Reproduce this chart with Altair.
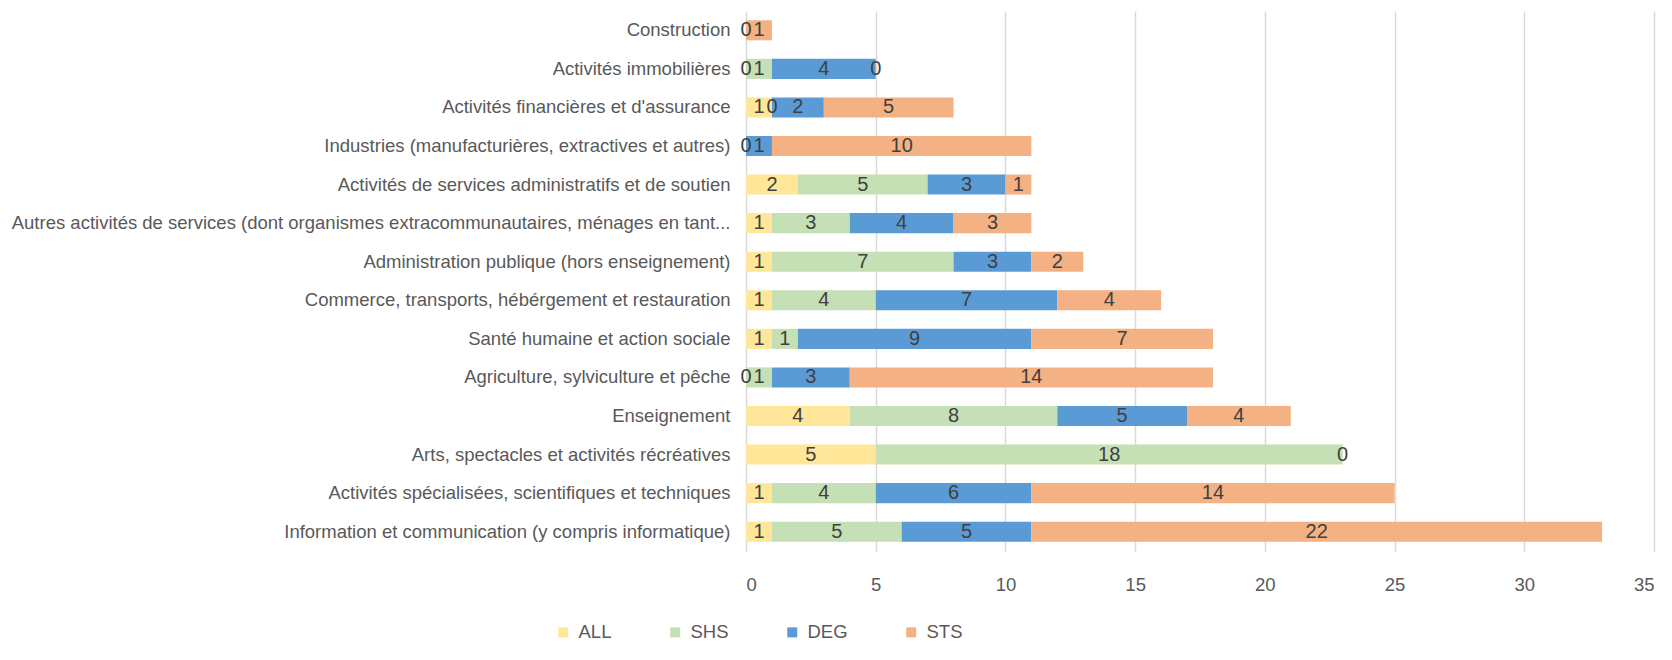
import altair as alt
import pandas as pd

categories = [
    "Construction",
    "Activités immobilières",
    "Activités financières et d'assurance",
    "Industries (manufacturières, extractives et autres)",
    "Activités de services administratifs et de soutien",
    "Autres activités de services (dont organismes extracommunautaires, ménages en tant...",
    "Administration publique (hors enseignement)",
    "Commerce, transports, hébérgement et restauration",
    "Santé humaine et action sociale",
    "Agriculture, sylviculture et pêche",
    "Enseignement",
    "Arts, spectacles et activités récréatives",
    "Activités spécialisées, scientifiques et techniques",
    "Information et communication (y compris informatique)",
]
series = ["ALL", "SHS", "DEG", "STS"]
ALL = [0, 0, 1, 0, 2, 1, 1, 1, 1, 0, 4, 5, 1, 1]
SHS = [None, 1, 0, None, 5, 3, 7, 4, 1, 1, 8, 18, 4, 5]
DEG = [None, 4, 2, 1, 3, 4, 3, 7, 9, 3, 5, None, 6, 5]
STS = [1, 0, 5, 10, 1, 3, 2, 4, 7, 14, 4, 0, 14, 22]
colors = ["#FFE699", "#C5E0B4", "#5B9BD5", "#F4B183"]

rows = []
for s_i, (s, vals) in enumerate(zip(series, [ALL, SHS, DEG, STS])):
    for c, v in zip(categories, vals):
        if v is not None:
            rows.append({"cat": c, "serie": s, "ord": s_i, "value": v})
df = pd.DataFrame(rows)

FONT = "Liberation Sans"

base = alt.Chart(df).transform_stack(
    stack="value", groupby=["cat"], as_=["x0", "x1"], sort=[alt.SortField("ord")]
).transform_calculate(mid="(datum.x0 + datum.x1) / 2")

y_enc = alt.Y(
    "cat:N",
    sort=categories,
    title=None,
    scale=alt.Scale(paddingInner=0.48, paddingOuter=0.24),
    axis=alt.Axis(
        labelFont=FONT, labelFontSize=18.5, labelColor="#595959",
        labelPadding=16, labelLimit=800, ticks=False, domain=False,
    ),
)

bars = base.mark_bar().encode(
    x=alt.X(
        "x0:Q",
        title=None,
        scale=alt.Scale(domain=[0, 35], nice=False),
        axis=alt.Axis(
            values=[0, 5, 10, 15, 20, 25, 30, 35], grid=True, gridColor="#D9D9D9",
            gridWidth=1.5, domain=False, ticks=False, labelFont=FONT,
            labelFontSize=18.5, labelColor="#595959", labelPadding=24,
        ),
    ),
    x2="x1:Q",
    y=y_enc,
    color=alt.Color(
        "serie:N",
        scale=alt.Scale(domain=series, range=colors),
        sort=series,
        legend=alt.Legend(
            title=None, orient="none", direction="horizontal",
            legendX=-192, legendY=612, symbolType="square", symbolSize=100,
            symbolStrokeWidth=0, labelFont=FONT, labelFontSize=18.5,
            labelColor="#595959", columnPadding=54, labelOffset=6,
        ),
    ),
)

labels = base.mark_text(font=FONT, fontSize=20, color="#404040").encode(
    x=alt.X("mid:Q"),
    y=alt.Y("cat:N", sort=categories),
    text=alt.Text("value:Q"),
)

chart = (
    alt.layer(bars, labels)
    .properties(
        width=908, height=540,
        autosize=alt.AutoSizeParams(type="none"),
        padding={"left": 738, "top": 3, "right": 10, "bottom": 100},
    )
    .configure_view(stroke=None)
)

chart.save("out.html", embed_options={"renderer": "svg", "actions": False})
